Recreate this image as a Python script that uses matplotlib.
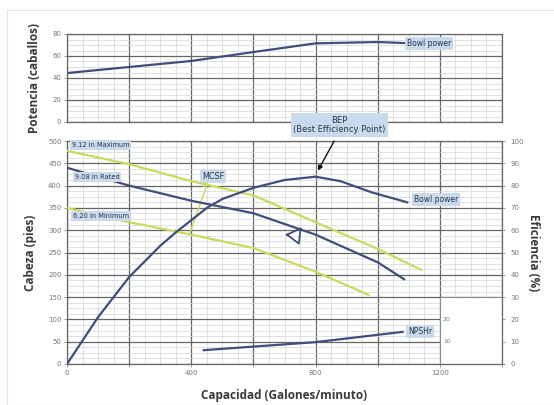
import matplotlib
matplotlib.use("Agg")
import matplotlib.pyplot as plt
from matplotlib.ticker import MultipleLocator, FuncFormatter
from matplotlib.patches import Rectangle

# curve readings (capacity in gpm)
cap_power = [0, 200, 400, 600, 800, 1000, 1085]
power = [44.5, 50, 55.5, 63.6, 71.5, 72.7, 71.8]

cap_eff = [0, 100, 200, 300, 350, 450, 500, 600, 700, 800, 880, 980, 1095]
eff = [0, 21, 39, 53, 59, 70, 74, 79, 82.5, 84, 82, 77, 72.5]

cap_max = [0, 200, 400, 600, 800, 1000, 1140]
head_max = [478, 448, 410, 378, 318, 258, 211]
cap_rated = [0, 200, 400, 600, 800, 1000, 1085]
head_rated = [440, 400, 366, 338, 290, 228, 190]
cap_min = [0, 200, 400, 600, 800, 970]
head_min = [350, 318, 290, 260, 207, 155]

cap_npsh = [440, 800, 1080]
npsh = [6.2, 9.8, 14.4]  # ft, drawn on head axis (10 ft = 50)
npsh_ticks = [10, 20]

tri_x = [708, 752, 746, 708]
tri_y = [290, 304, 270, 290]

BLUE = '#3d4f7a'
GREEN = '#c8db5c'
BOX = '#c9dbea'
TXT = '#2a3450'
LBL = '#3a3a3a'

fig = plt.figure(figsize=(5.54, 4.05), dpi=100)

# faint frame around the picture
fig.patches.append(Rectangle((7 / 554, 0), 1.0, 1 - 10 / 405, transform=fig.transFigure,
                             fill=False, edgecolor='#e4e4e4', lw=0.8))


def grid_setup(ax, ymaj, ymin):
    ax.set_xlim(0, 1400)
    ax.xaxis.set_major_locator(MultipleLocator(200))
    ax.xaxis.set_minor_locator(MultipleLocator(50))
    ax.yaxis.set_major_locator(MultipleLocator(ymaj))
    ax.yaxis.set_minor_locator(MultipleLocator(ymin))
    ax.grid(which='major', color='#666666', lw=0.9)
    ax.grid(which='minor', color='#d4d4d4', lw=0.5)
    ax.set_axisbelow(True)
    for s in ax.spines.values():
        s.set_color('#666666')
        s.set_linewidth(0.9)
    ax.tick_params(which='major', length=2, width=0.6, color='#888888',
                   labelsize=5, labelcolor='#777777', pad=2)
    ax.tick_params(which='minor', length=0)


# top panel: power
ax1 = fig.add_axes([67 / 554, 1 - 122 / 405, 435 / 554, 88 / 405])
grid_setup(ax1, 20, 5)
ax1.set_ylim(0, 80)
ax1.tick_params(axis='x', which='both', labelbottom=False, length=0)
ax1.plot(cap_power, power, color=BLUE, lw=1.6)
ax1.text(1095, 71, 'Bowl power', fontsize=5.5, color=TXT, va='center', ha='left',
         bbox=dict(boxstyle='square,pad=0.25', fc=BOX, ec='none'))
ax1.set_ylabel('Potencia (caballos)', fontsize=8.5, fontweight='bold', color=LBL,
               family='Open Sans', labelpad=8)

# lower panel: head / efficiency
ax2 = fig.add_axes([67 / 554, 1 - 364 / 405, 435 / 554, 223 / 405])
grid_setup(ax2, 50, 12.5)
ax2.set_ylim(0, 500)
ax2.xaxis.set_major_formatter(FuncFormatter(lambda v, p: f'{int(v)}' if v % 400 == 0 else ''))
ax2.add_patch(Rectangle((1200, 0), 200, 150, fc='white', ec='#8a8a8a', lw=0.8, zorder=1))

ax2.plot(cap_max, head_max, color=GREEN, lw=1.6, zorder=3)
ax2.plot(cap_min, head_min, color=GREEN, lw=1.6, zorder=3)
ax2.plot(cap_rated, head_rated, color=BLUE, lw=1.6, zorder=4)
ax2.plot(cap_eff, [e * 5 for e in eff], color=BLUE, lw=1.6, zorder=4)
ax2.plot(cap_npsh, [n * 5 for n in npsh], color=BLUE, lw=1.6, zorder=4)
ax2.plot(tri_x, tri_y, color=BLUE, lw=1.3, zorder=4)

# MCSF leaders
ax2.plot([455, 440], [412, 398], color=GREEN, lw=1.0, zorder=3)
ax2.plot([455, 395], [412, 292], color=GREEN, lw=1.0, zorder=3)

for n in npsh_ticks:
    ax2.text(1210, n * 5, str(n), fontsize=4.5, color='#777777', va='center', ha='left')

box = dict(boxstyle='square,pad=0.25', fc=BOX, ec='none')
ax2.text(16, 491, '9.12 in Maximum', fontsize=4.8, color=TXT, va='center', bbox=box, zorder=5)
ax2.text(26, 419, '9.08 in Rated', fontsize=4.8, color=TXT, va='center', bbox=box, zorder=5)
ax2.text(19, 332, '6.20 in Minimum', fontsize=4.8, color=TXT, va='center', bbox=box, zorder=5)
ax2.text(471, 421, 'MCSF', fontsize=5.8, color=TXT, va='center', ha='center', bbox=box, zorder=5)
ax2.text(1116, 368, 'Bowl power', fontsize=5.5, color=TXT, va='center', bbox=box, zorder=5)
ax2.text(1097, 72, 'NPSHr', fontsize=5.5, color=TXT, va='center', bbox=box, zorder=5)
ax2.text(877, 536, 'BEP\n(Best Efficiency Point)', fontsize=6, color=TXT, va='center',
         ha='center', linespacing=1.1, clip_on=False, zorder=6,
         bbox=dict(boxstyle='square,pad=0.3', fc=BOX, ec='none'))
ax2.annotate('', xy=(803, 428), xytext=(864, 505), annotation_clip=False,
             arrowprops=dict(arrowstyle='-|>', color='#111111', lw=1.0, mutation_scale=7))

ax2.set_ylabel('Cabeza (pies)', fontsize=8.5, fontweight='bold', color=LBL,
               family='Open Sans', labelpad=8)
ax2.set_xlabel('Capacidad (Galones/minuto)', fontsize=8.5, fontweight='bold', color=LBL,
               family='Open Sans', labelpad=10)

ax3 = ax2.twinx()
ax3.set_ylim(0, 100)
ax3.yaxis.set_major_locator(MultipleLocator(10))
ax3.tick_params(length=2, width=0.6, color='#888888', labelsize=5, labelcolor='#777777', pad=4)
for s in ax3.spines.values():
    s.set_visible(False)
ax3.set_ylabel('Eficiencia (%)', fontsize=8.5, fontweight='bold', color=LBL,
               family='Open Sans', rotation=270, labelpad=12)

fig.savefig('out.png', dpi=100, facecolor='white')
